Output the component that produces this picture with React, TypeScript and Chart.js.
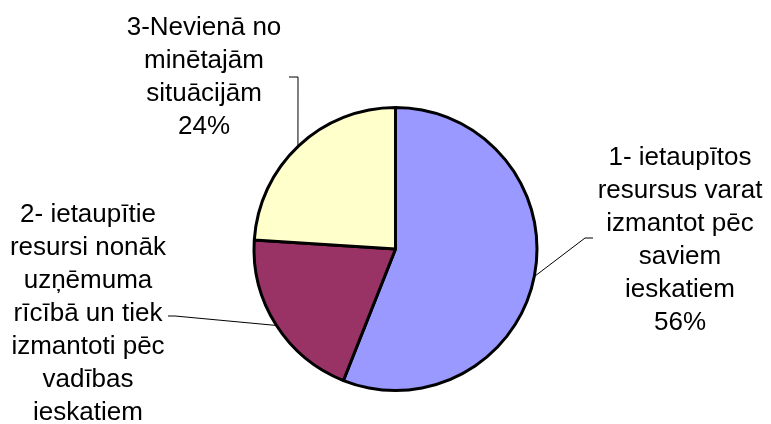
import { useEffect, useRef } from "react";
import { Chart, registerables } from "chart.js";

Chart.register(...registerables);

// ---- data ----
const categories = [
  "1- ietaupītos resursus varat izmantot pēc saviem ieskatiem",
  "2- ietaupītie resursi nonāk uzņēmuma rīcībā un tiek izmantoti pēc vadības ieskatiem",
  "3-Nevienā no minētajām situācijām",
];
const shares = [56, 20, 24];
const labelLines = [
  ["1- ietaupītos", "resursus varat", "izmantot pēc", "saviem", "ieskatiem"],
  ["2- ietaupītie", "resursi nonāk", "uzņēmuma", "rīcībā un tiek", "izmantoti pēc", "vadības", "ieskatiem"],
  ["3-Nevienā no", "minētajām", "situācijām"],
];

// ---- styles / layout ----
const sliceColors = ["#9999FF", "#993366", "#FFFFCC"];
const FONT = "26px 'Liberation Sans', Arial, sans-serif";
const LINE_H = 33;
const labelLayout = [
  { cx: 680, top: 158, elbow: [585, 238], end: [593, 238] },
  { cx: 88, top: 215, elbow: [175, 316], end: [168, 316] },
  { cx: 204, top: 28, elbow: [298, 77], end: [289, 77] },
];

const labelPlugin = {
  id: "pieLabels",
  afterDraw(chart: any) {
    const ctx = chart.ctx as CanvasRenderingContext2D;
    const meta = chart.getDatasetMeta(0);
    const total = shares.reduce((a, b) => a + b, 0);
    ctx.save();
    meta.data.forEach((arc: any, i: number) => {
      const p = arc.getProps(["x", "y", "startAngle", "endAngle", "outerRadius"], true);
      const mid = (p.startAngle + p.endAngle) / 2;
      const sx = p.x + Math.cos(mid) * (p.outerRadius + 1);
      const sy = p.y + Math.sin(mid) * (p.outerRadius + 1);
      const L = labelLayout[i];
      ctx.strokeStyle = "#000";
      ctx.lineWidth = 1;
      ctx.beginPath();
      ctx.moveTo(sx, sy);
      ctx.lineTo(L.elbow[0], L.elbow[1]);
      ctx.lineTo(L.end[0], L.end[1]);
      ctx.stroke();

      const lines = [...labelLines[i], Math.round((shares[i] / total) * 100) + "%"];
      ctx.fillStyle = "#000";
      ctx.font = FONT;
      ctx.textAlign = "center";
      ctx.textBaseline = "middle";
      lines.forEach((t, k) => {
        ctx.fillText(t, L.cx, L.top + k * LINE_H);
      });
    });
    ctx.restore();
  },
};

export default function App() {
  const ref = useRef<HTMLCanvasElement>(null);
  useEffect(() => {
    if (!ref.current) return;
    const chart = new Chart(ref.current, {
      type: "pie",
      data: {
        labels: categories,
        datasets: [
          {
            data: shares,
            backgroundColor: sliceColors,
            borderColor: "#000000",
            borderWidth: 3,
          },
        ],
      },
      options: {
        responsive: false,
        animation: false,
        layout: { padding: { top: 106, bottom: 32, left: 100, right: 80 } },
        plugins: {
          legend: { display: false },
          tooltip: { enabled: false },
        },
      },
      plugins: [labelPlugin],
    });
    return () => chart.destroy();
  }, []);
  return (
    <div style={{ position: "absolute", left: 0, top: 0, width: 771, height: 424, background: "#fff" }}>
      <canvas ref={ref} width={771} height={424} style={{ width: 771, height: 424 }} />
    </div>
  );
}
